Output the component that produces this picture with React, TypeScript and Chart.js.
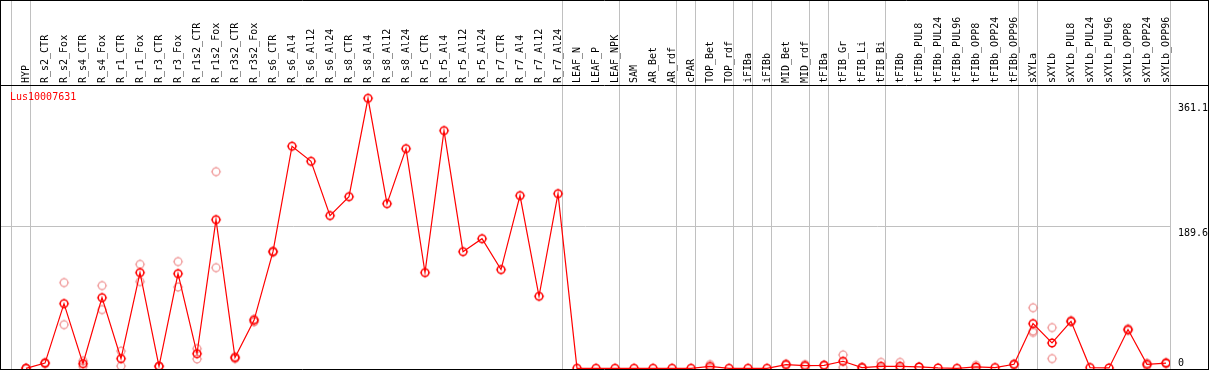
import React, { useEffect, useRef } from "react";
import { Chart, registerables } from "chart.js";

Chart.register(...registerables);

const geneName = "Lus10007631";

const categories = [
  "HYP", "R_s2_CTR", "R_s2_Fox", "R_s4_CTR", "R_s4_Fox", "R_r1_CTR", "R_r1_Fox", "R_r3_CTR", "R_r3_Fox",
  "R_r1s2_CTR", "R_r1s2_Fox", "R_r3s2_CTR", "R_r3s2_Fox", "R_s6_CTR", "R_s6_Al4", "R_s6_Al12", "R_s6_Al24",
  "R_s8_CTR", "R_s8_Al4", "R_s8_Al12", "R_s8_Al24", "R_r5_CTR", "R_r5_Al4", "R_r5_Al12", "R_r5_Al24",
  "R_r7_CTR", "R_r7_Al4", "R_r7_Al12", "R_r7_Al24", "LEAF_N", "LEAF_P", "LEAF_NPK", "SAM", "AR_Bet", "AR_rdf",
  "cPAR", "TOP_Bet", "TOP_rdf", "iFIBa", "iFIBb", "MID_Bet", "MID_rdf", "tFIBa", "tFIB_Gr", "tFIB_Li", "tFIB_Bi",
  "tFIBb", "tFIBb_PUL8", "tFIBb_PUL24", "tFIBb_PUL96", "tFIBb_OPP8", "tFIBb_OPP24", "tFIBb_OPP96",
  "sXYLa", "sXYLb", "sXYLb_PUL8", "sXYLb_PUL24", "sXYLb_PUL96", "sXYLb_OPP8", "sXYLb_OPP24", "sXYLb_OPP96",
];

const meanValues = [
  0, 7, 86.5, 6.2, 94.5, 13, 128, 2.7, 126.6,
  19.6, 198.8, 14.3, 64.2, 156, 297, 276.9, 204.2,
  229.6, 361.1, 220.2, 293.8, 128, 317.9, 156, 173.4,
  132, 231, 96.3, 233.6, 0, 0, 0, 0, 0, 0,
  0, 2.5, 0, 0, 0, 5, 3.6, 4, 9.4, 1, 2.7,
  2.7, 1.8, 0.5, 0, 1.8, 1, 5.3,
  59.8, 33.9, 62.9, 1, 0.5, 51.8, 5.3, 7,
];

const replicateA = [
  0, 8, 114.6, 10, 110.6, 23, 139, 3, 142.7,
  26.3, 263, 15.5, 66, 157, null, null, null,
  null, null, null, null, null, null, null, null,
  null, null, null, null, null, null, null, null, null, null,
  null, 5, null, null, null, 6, 5, 4.5, 18, 1.5, 8,
  8, 2, null, null, 4, null, 6,
  81, 54.4, 64, null, null, 53, 7, 8,
];

const replicateB = [
  0, 6, 58.4, 2.5, 78.5, 3, 116, 2.4, 108.7,
  12.5, 134.6, 13, 62, 155, null, null, null,
  null, null, null, null, null, null, null, null,
  null, null, null, null, null, null, null, null, null, null,
  null, 0, null, null, null, 4, 2.2, 3.5, 1, 0.5, 0,
  0, 1.6, null, null, 0, null, 4.6,
  50, 13, 62, null, null, 50.6, 3.6, 6,
];

const replicateC = [
  null, null, null, null, null, null, null, null, null,
  null, null, null, null, null, null, null, null,
  null, null, null, null, null, null, null, null,
  null, null, null, null, null, null, null, null, null, null,
  null, null, null, null, null, null, null, null, null, null, null,
  null, null, null, null, null, null, null,
  48, null, null, null, null, null, null, null,
];

const yTickValues = [0, 189.6, 361.1];
const gridValue = 189.6;
const groupEndIndices = [-1, 0, 28, 31, 34, 35, 37, 38, 39, 41, 42, 45, 52, 53, 60];

const FONT = "'DejaVu Sans Mono', monospace";

function makeMarker(color: string, width: number): HTMLCanvasElement {
  const size = 12;
  const c = document.createElement("canvas");
  c.width = size;
  c.height = size;
  const g = c.getContext("2d") as CanvasRenderingContext2D;
  const m = size / 2;
  const r = 3.8;
  g.strokeStyle = color;
  g.lineWidth = width;
  g.beginPath();
  g.arc(m, m, r, 0, Math.PI * 2);
  g.stroke();
  g.lineWidth = 0.9;
  g.beginPath();
  g.moveTo(m, m - r); g.lineTo(m, m - r - 1.3);
  g.moveTo(m, m + r); g.lineTo(m, m + r + 1.3);
  g.moveTo(m - r, m); g.lineTo(m - r - 1.3, m);
  g.moveTo(m + r, m); g.lineTo(m + r + 1.3, m);
  g.stroke();
  return c;
}

function toPoints(arr: (number | null)[]) {
  const out: { x: number; y: number }[] = [];
  arr.forEach((v, i) => {
    if (v !== null && v !== undefined) out.push({ x: i, y: v });
  });
  return out;
}

export default function App() {
  const ref = useRef<HTMLCanvasElement | null>(null);

  useEffect(() => {
    const canvas = ref.current;
    if (!canvas) return;
    const mainMarker = makeMarker("#ff0000", 1.5);
    const faintMarker = makeMarker("rgba(235,120,120,0.7)", 1.3);

    const framePlugin = {
      id: "frame",
      beforeDatasetsDraw(chart: any) {
        const ctx = chart.ctx as CanvasRenderingContext2D;
        const xs = chart.scales.x;
        const area = chart.chartArea;
        ctx.save();
        ctx.strokeStyle = "#c0c0c0";
        ctx.lineWidth = 1;
        ctx.beginPath();
        groupEndIndices.forEach((idx) => {
          const px = Math.round(xs.getPixelForValue(idx + 0.2)) + 0.5;
          ctx.moveTo(px, 0);
          ctx.lineTo(px, area.bottom);
        });
        ctx.stroke();
        ctx.restore();
      },
      afterDraw(chart: any) {
        const ctx = chart.ctx as CanvasRenderingContext2D;
        const area = chart.chartArea;
        const w = chart.width;
        const h = chart.height;
        ctx.save();
        ctx.strokeStyle = "#000";
        ctx.lineWidth = 1;
        ctx.beginPath();
        ctx.moveTo(0, 0.5); ctx.lineTo(w, 0.5);
        ctx.moveTo(0, area.top + 0.5); ctx.lineTo(w, area.top + 0.5);
        ctx.moveTo(0, area.bottom + 0.5); ctx.lineTo(w, area.bottom + 0.5);
        ctx.moveTo(0.5, 0); ctx.lineTo(0.5, h);
        ctx.moveTo(w - 0.5, 0); ctx.lineTo(w - 0.5, h);
        ctx.stroke();
        ctx.fillStyle = "#ff0000";
        ctx.font = "10px " + FONT;
        ctx.textBaseline = "middle";
        ctx.textAlign = "left";
        ctx.fillText(geneName, area.left + 9, area.top + 12);
        ctx.restore();
      },
    };

    const chart = new Chart(canvas, {
      type: "line",
      data: {
        datasets: [
          {
            label: geneName,
            data: toPoints(meanValues),
            borderColor: "#ff0000",
            borderWidth: 1.2,
            pointStyle: mainMarker as any,
            pointRadius: 4,
            tension: 0,
            order: 0,
          },
          {
            label: "replicates",
            data: [...toPoints(replicateA), ...toPoints(replicateB), ...toPoints(replicateC)],
            showLine: false,
            pointStyle: faintMarker as any,
            pointRadius: 4,
            order: 1,
          },
        ],
      },
      options: {
        animation: false,
        responsive: false,
        devicePixelRatio: 1,
        layout: { autoPadding: false, padding: { left: 1, right: 1, top: 0, bottom: 1 } },
        plugins: {
          legend: { display: false },
          tooltip: { enabled: false },
          title: { display: false },
        },
        scales: {
          x: {
            type: "linear",
            position: "top",
            min: -1.3158,
            max: 60.21,
            afterBuildTicks: (s: any) => {
              s.ticks = categories.map((_, i) => ({ value: i }));
            },
            afterFit: (s: any) => {
              s.height = 85;
              s.paddingLeft = 0;
              s.paddingRight = 0;
              s.paddingTop = 0;
              s.paddingBottom = 0;
            },
            ticks: {
              autoSkip: false,
              minRotation: 90,
              maxRotation: 90,
              padding: 2,
              labelOffset: 12,
              color: "#000",
              font: { family: FONT, size: 10 },
              callback: (v: any) => categories[Math.round(Number(v))] ?? "",
            },
            grid: { display: false, drawTicks: false },
            border: { display: false },
          },
          y: {
            type: "linear",
            position: "right",
            min: -0.94,
            max: 378.9,
            afterBuildTicks: (s: any) => {
              s.ticks = yTickValues.map((v) => ({ value: v }));
            },
            afterFit: (s: any) => {
              s.width = 38;
              s.paddingLeft = 0;
              s.paddingRight = 0;
              s.paddingTop = 0;
              s.paddingBottom = 0;
            },
            ticks: {
              padding: 8,
              color: "#000",
              font: (ctx: any) => {
                const v = ctx.tick ? ctx.tick.value : 0;
                const lh = v === 0 ? 10 : v === gridValue ? 14 : 20;
                return { family: FONT, size: 10, lineHeight: lh + "px" };
              },
              callback: (v: any) => {
                const n = Number(v);
                return n === 0 ? [String(n), ""] : ["", String(n)];
              },
            },
            grid: {
              drawTicks: false,
              lineWidth: 1,
              color: (ctx: any) =>
                ctx.tick && ctx.tick.value === gridValue ? "#c0c0c0" : "rgba(0,0,0,0)",
            },
            border: { display: false },
          },
        },
      },
      plugins: [framePlugin],
    } as any);

    return () => {
      chart.destroy();
    };
  }, []);

  return (
    <div style={{ position: "absolute", left: 0, top: 0, width: 1209, height: 370, background: "#fff" }}>
      <canvas ref={ref} width={1209} height={370} style={{ display: "block", width: 1209, height: 370 }} />
    </div>
  );
}
